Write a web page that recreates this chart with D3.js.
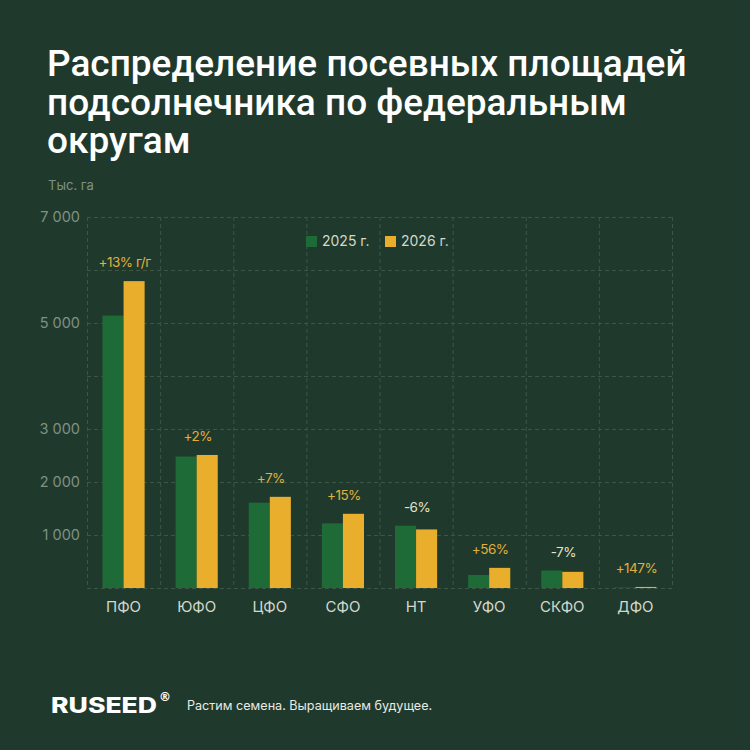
<!DOCTYPE html>
<html>
<head>
<meta charset="utf-8">
<script src="https://cdn.jsdelivr.net/npm/d3@7"></script>
<style>
  html, body { margin: 0; padding: 0; background: #1f3a2d; }
  svg { display: block; }
</style>
</head>
<body>
<div id="main"></div>
<script>
var width = 750,
    height = 750;

// data (тыс. га)
var districts = ["ПФО", "ЮФО", "ЦФО", "СФО", "НТ", "УФО", "СКФО", "ДФО"];
var years = ["2025 г.", "2026 г."];
var values2025 = [5140, 2480, 1610, 1220, 1175, 245, 330, 8];
var values2026 = [5790, 2510, 1720, 1400, 1105, 380, 305, 20];
var changeLabels = ["+13% г/г", "+2%", "+7%", "+15%", "-6%", "+56%", "-7%", "+147%"];
var yTicks = [1000, 2000, 3000, 5000, 7000];
var gridValues = [0, 1000, 2000, 3000, 4000, 5000, 6000, 7000];

var colors = { "2025 г.": "#1e6b38", "2026 г.": "#e9ae2c" };

var svg = d3.select("#main").append("svg")
  .attr("width", width)
  .attr("height", height);

svg.append("rect")
  .attr("width", width)
  .attr("height", height)
  .attr("fill", "#1f3a2d");

// title
var title = ["Распределение посевных площадей", "подсолнечника по федеральным", "округам"];
svg.append("g").selectAll("text")
  .data(title)
  .enter().append("text")
  .attr("x", 47)
  .attr("y", function (d, i) { return 76 + i * 38.5; })
  .attr("fill", "#ffffff")
  .style("font-family", "Roboto, 'Noto Sans', sans-serif")
  .style("font-weight", 500)
  .style("font-size", "37px")
  .text(function (d) { return d; });

svg.append("text")
  .attr("x", 48)
  .attr("y", 190)
  .attr("fill", "#7f9183")
  .style("font-family", "Inter, Roboto, sans-serif")
  .style("font-size", "13px")
  .text("Тыс. га");

var x0 = d3.scaleBand()
  .domain(districts)
  .range([87, 672])
  .padding(0);

var x1 = d3.scaleBand()
  .domain(years)
  .range([15.5, x0.bandwidth() - 15.5])
  .padding(0);

var y = d3.scaleLinear()
  .domain([0, 7000])
  .range([588, 217]);

// grid
var grid = svg.append("g")
  .attr("stroke", "#3c5545")
  .attr("stroke-width", 1)
  .attr("stroke-dasharray", "4,3");

grid.selectAll("line.h")
  .data(gridValues)
  .enter().append("line")
  .attr("class", "h")
  .attr("x1", 87)
  .attr("x2", 672)
  .attr("y1", function (d) { return y(d) + 0.5; })
  .attr("y2", function (d) { return y(d) + 0.5; });

grid.selectAll("line.v")
  .data(districts.concat(["end"]))
  .enter().append("line")
  .attr("class", "v")
  .attr("x1", function (d, i) { return i < districts.length ? x0(d) + 0.5 : x0.range()[1] + 0.5; })
  .attr("x2", function (d, i) { return i < districts.length ? x0(d) + 0.5 : x0.range()[1] + 0.5; })
  .attr("y1", y(7000))
  .attr("y2", y(0));

// y axis
var yAxis = d3.axisLeft(y)
  .tickValues(yTicks)
  .tickSize(0)
  .tickPadding(0)
  .tickFormat(function (d) { return d3.format(",")(d).replace(",", " "); });

var yg = svg.append("g")
  .attr("transform", "translate(80,0)")
  .call(yAxis);
yg.select(".domain").remove();
yg.selectAll("text")
  .attr("fill", "#7f9183")
  .style("font-family", "Inter, Roboto, sans-serif")
  .style("font-size", "14.5px");

// x axis
var xAxis = d3.axisBottom(x0).tickSize(0).tickPadding(0);
var xg = svg.append("g")
  .attr("transform", "translate(0,601)")
  .call(xAxis);
xg.select(".domain").remove();
xg.selectAll("text")
  .attr("fill", "#d3d8cc")
  .style("font-family", "Inter, Roboto, sans-serif")
  .style("font-size", "15px");

// bars
var rows = districts.map(function (d, i) {
  return { district: d, values: [
    { year: years[0], value: values2025[i] },
    { year: years[1], value: values2026[i] }
  ], label: changeLabels[i] };
});

var groups = svg.append("g").selectAll("g")
  .data(rows)
  .enter().append("g")
  .attr("transform", function (d) { return "translate(" + x0(d.district) + ",0)"; });

groups.selectAll("rect")
  .data(function (d) { return d.values; })
  .enter().append("rect")
  .attr("x", function (d) { return x1(d.year); })
  .attr("width", x1.bandwidth())
  .attr("y", function (d) { return y(d.value); })
  .attr("height", function (d) { return y(0) - y(d.value); })
  .attr("fill", function (d) { return colors[d.year]; });

groups.append("text")
  .attr("x", x0.bandwidth() / 2 + 1)
  .attr("y", function (d) { return y(d3.max(d.values, function (v) { return v.value; })) - 14; })
  .attr("text-anchor", "middle")
  .attr("fill", function (d) { return d.label.charAt(0) === "-" ? "#e6e3cf" : "#e2b03c"; })
  .style("font-family", "Inter, Roboto, sans-serif")
  .style("font-size", "13.5px")
  .style("letter-spacing", "-0.5px")
  .text(function (d) { return d.label; });

// legend
var legend = svg.append("g").selectAll("g")
  .data(years)
  .enter().append("g")
  .attr("transform", function (d, i) { return "translate(" + (306 + i * 79) + ",236)"; });

legend.append("rect")
  .attr("width", 11)
  .attr("height", 11)
  .attr("fill", function (d) { return colors[d]; });

legend.append("text")
  .attr("x", 16)
  .attr("y", 10)
  .attr("fill", "#d3d8cc")
  .style("font-family", "Inter, Roboto, sans-serif")
  .style("font-size", "14px")
  .text(function (d) { return d; });

// footer
svg.append("text")
  .attr("x", 51)
  .attr("y", 713)
  .attr("fill", "#ffffff")
  .attr("textLength", 106)
  .attr("lengthAdjust", "spacingAndGlyphs")
  .style("font-family", "Inter, 'DejaVu Sans', sans-serif")
  .style("font-weight", 800)
  .style("font-size", "21px")
  .text("RUSEED");

svg.append("text")
  .attr("x", 159)
  .attr("y", 701)
  .attr("fill", "#ffffff")
  .style("font-family", "'DejaVu Sans', sans-serif")
  .style("font-weight", 700)
  .style("font-size", "12px")
  .text("®");

svg.append("text")
  .attr("x", 187)
  .attr("y", 710)
  .attr("fill", "#e8ebe4")
  .style("font-family", "Inter, Roboto, sans-serif")
  .style("font-size", "12.6px")
  .text("Растим семена. Выращиваем будущее.");
</script>
</body>
</html>
